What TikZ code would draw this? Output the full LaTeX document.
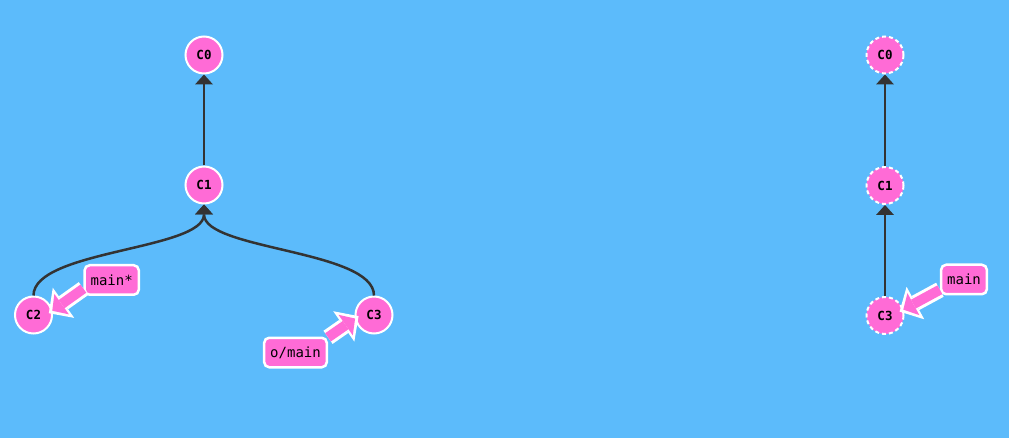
\documentclass[tikz,border=0pt]{standalone}
\usepackage{fontspec}
\setmonofont{DejaVu Sans Mono}
\usetikzlibrary{arrows.meta}
\definecolor{bgblue}{HTML}{5CBBFB}
\definecolor{cpink}{HTML}{FF6BD6}
\definecolor{edgegray}{HTML}{333333}
\tikzset{
	commit/.style={circle,fill=cpink,draw=white,line width=2pt,minimum size=37pt,inner sep=0pt,font=\ttfamily\bfseries\fontsize{12.5}{13}\selectfont},
	oldcommit/.style={commit,dash pattern=on 4pt off 3pt},
	branch/.style={rectangle,rounded corners=5pt,fill=cpink,draw=white,line width=2.5pt,minimum height=29.5pt,inner xsep=6pt,font=\ttfamily\fontsize{14}{15}\selectfont},
	parent/.style={draw=edgegray,line width=2.5pt,-{Triangle[length=10pt,width=18pt,line width=0pt]}},
	refout/.style={draw=white,line width=16pt,shorten >=-4.5pt,-{Triangle[length=18pt,width=37pt,line width=0pt]}},
	refin/.style={draw=cpink,line width=10pt,shorten >=-0.3pt,-{Triangle[length=11.5pt,width=25pt,line width=0pt]}}
}
\begin{document}
\begin{tikzpicture}[x=1pt,y=-1pt]
	\fill[bgblue] (0,0) rectangle (1009,438);
	\useasboundingbox (0,0) rectangle (1009,438);
	\node[commit] (c0) at (204,55) {C0};
	\node[commit] (c1) at (204,185) {C1};
	\node[commit] (c2) at (33.5,315) {C2};
	\node[commit] (c3) at (374,315) {C3};
	\draw[parent] (c1) -- (c0);
	\draw[parent] (c2) .. controls (33.5,250) and (204,250) .. (c1);
	\draw[parent] (c3) .. controls (374,250) and (204,250) .. (c1);
	\node[branch] (lmain) at (111.7,280) {main*};
	\node[branch] (lomain) at (295.5,352.5) {o/main};
	\draw[refout] (lmain.197) -- (c2.13);
	\draw[refin] (lmain.197) -- (c2.13);
	\draw[refout] (lomain.25) -- (c3.191);
	\draw[refin] (lomain.25) -- (c3.191);
	\node[oldcommit] (r0) at (885,55) {C0};
	\node[oldcommit] (r1) at (885,185.5) {C1};
	\node[oldcommit] (r3) at (885,315.5) {C3};
	\draw[parent] (r1) -- (r0);
	\draw[parent] (r3) -- (r1);
	\node[branch] (rmain) at (964,279.5) {main};
	\draw[refout] (rmain.203) -- (r3.18);
	\draw[refin] (rmain.203) -- (r3.18);
\end{tikzpicture}
\end{document}
